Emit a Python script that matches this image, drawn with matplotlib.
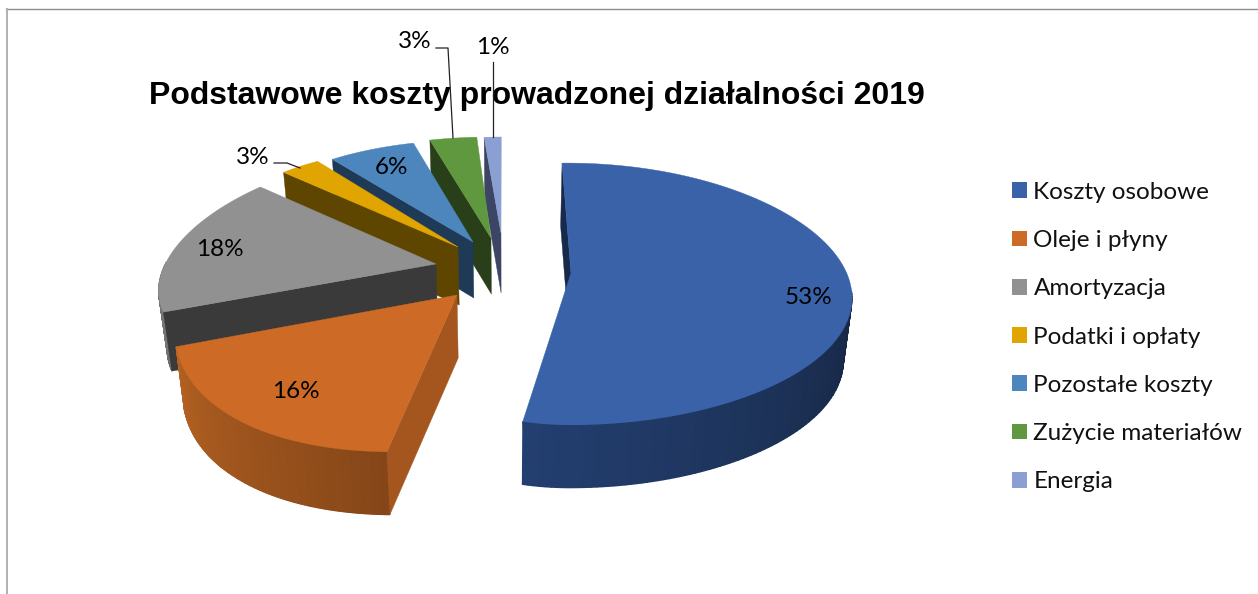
import numpy as np
import matplotlib
matplotlib.use("Agg")
import matplotlib.pyplot as plt
from matplotlib.patches import Polygon, Patch
from matplotlib.colors import LinearSegmentedColormap

categories = ["Koszty osobowe", "Oleje i płyny", "Amortyzacja", "Podatki i opłaty",
              "Pozostałe koszty", "Zużycie materiałów", "Energia"]
values = [53, 16, 18, 3, 6, 3, 1]
title = "Podstawowe koszty prowadzonej działalności 2019"

# --- styles ---
top_colors = ["#3A62A9", "#CC6A26", "#919191", "#E0A500", "#4C86BC", "#5F983E", "#8C9FD3"]
face_colors = ["#172A4C", "#A5561F", "#3A3A3A", "#5E4600", "#1F3A56", "#283F19", "#3C4664"]
rim_from = ["#172744", "#854618", "#6E6E6E", "#5E4600", "#1F3A56", "#283F19", "#3C4664"]
rim_to = ["#233F70", "#B56222", "#808080", "#5E4600", "#1F3A56", "#283F19", "#3C4664"]

# --- layout of the exploded 3D view (per slice, in figure pixels) ---
start_angle = -1.0
apex_x = [571, 457, 436, 458, 473, 491, 501]
apex_y = [273, 295, 264, 247, 242, 238, 233]
view_a = [283, 296, 277, 240, 239, 252, 272]
view_b = [-2, 20, 44, 5, 4, 6, 5]
view_x0 = [-2, 0, 0, 0, 0, 0, 0]
view_c = [24, 11, -3, 11, 2, 2, 0]
view_p = [2, 1, 1, 1, 1, 1, 1]
view_d = [127.5, 161, 118, 99, 102, 101, 96]
view_k = [0.16, 0, 0, 0, 0, 0, 0]
bulge = [0, 0.07, -0.02, 0, 0, 0, 0]
depth = [63, 63, 59, 58, 56, 56, 60]
conv = 0.025
conv_x = 505.0

label_xy = [(809, 297), (296, 391), (220, 249), (253, 157), (391, 168), (415, 41), (493, 47)]
leaders = {3: [(274, 163), (287, 163), (300, 168)],
           5: [(436, 48), (448, 48), (453, 138)],
           6: [(493, 62), (493, 137)]}

W, H = 1258, 594
fig = plt.figure(figsize=(W / 100, H / 100), dpi=100, facecolor="white")
ax = fig.add_axes([0, 0, 1, 1])
ax.set_xlim(0, W)
ax.set_ylim(H, 0)
ax.set_autoscale_on(False)
ax.axis("off")

ax.plot([6, W], [9, 9], color="#8c8c8c", lw=1.0, zorder=1)
ax.plot([7, 7], [9, H], color="#b0b0b0", lw=1.4, zorder=1)


def project(i, theta, t=0.0):
    r = 1 + bulge[i] * np.sin(np.pi * t)
    sn, cs = np.sin(np.radians(theta)), np.cos(np.radians(theta))
    s, c = sn * r, cs * r
    x = apex_x[i] + view_x0[i] + view_a[i] * s + view_b[i] * c
    tilt = s * np.abs(s) ** (view_p[i] - 1)
    y = apex_y[i] + view_c[i] * tilt - view_d[i] * c / (1 + view_k[i] * cs)
    return x, y


def drop(i, x, y):
    return x + conv * (conv_x - x), y + depth[i]


total = sum(values)
edges = start_angle + np.cumsum([0] + values) / total * 360.0
z = 2
for i in reversed(range(len(values))):
    th = np.linspace(edges[i], edges[i + 1], 161)
    t = (th - th[0]) / (th[-1] - th[0])
    xs, ys = project(i, th, t)
    axx, axy = apex_x[i], apex_y[i]

    # outer rim, shaded along the visible arc
    vis = np.cos(np.radians(th)) < 0.05
    if vis.sum() > 1:
        bx, by = drop(i, xs[vis], ys[vis])
        X = np.vstack([xs[vis], bx])
        Y = np.vstack([ys[vis], by])
        C = np.tile(np.linspace(0, 1, vis.sum()), (2, 1))
        cmap = LinearSegmentedColormap.from_list(f"rim{i}", [rim_from[i], rim_to[i]])
        ax.pcolormesh(X, Y, C, cmap=cmap, vmin=0, vmax=1, shading="gouraud", zorder=z)
        z += 1

    # visible radial face
    x0, y0 = xs[0], ys[0]
    pts = [(axx, axy), (x0, y0), drop(i, x0, y0), drop(i, axx, axy)]
    ax.add_patch(Polygon(pts, closed=True, fc=face_colors[i], ec=face_colors[i], lw=0.3, zorder=z))
    z += 1

    top = np.column_stack([np.r_[axx, xs], np.r_[axy, ys]])
    ax.add_patch(Polygon(top, closed=True, fc=top_colors[i], ec=top_colors[i], lw=0.3, zorder=z))
    z += 1

for i, v in enumerate(values):
    ax.text(label_xy[i][0], label_xy[i][1], f"{v}%", ha="center", va="center",
            family="Lato", fontsize=17.5, color="black", zorder=60)
for key, line in leaders.items():
    ax.plot(*zip(*line), color="#222222", lw=0.9, zorder=55)

ax.text(149, 104, title, family="Liberation Sans", weight="bold", fontsize=23,
        ha="left", va="baseline", color="black", zorder=50)

handles = [Patch(fc=c, ec=c, lw=0) for c in top_colors]
leg = ax.legend(handles, categories, loc="upper left", bbox_to_anchor=(1007 / W, 1 - 177 / H),
                bbox_transform=ax.transAxes, frameon=False, prop={"family": "Lato", "size": 17.5},
                handlelength=0.62, handleheight=0.62, handletextpad=0.27, labelspacing=1.12,
                borderpad=0.2, borderaxespad=0)
for txt in leg.get_texts():
    txt.set_color("#111111")

fig.savefig("out.png", dpi=100, facecolor="white")
